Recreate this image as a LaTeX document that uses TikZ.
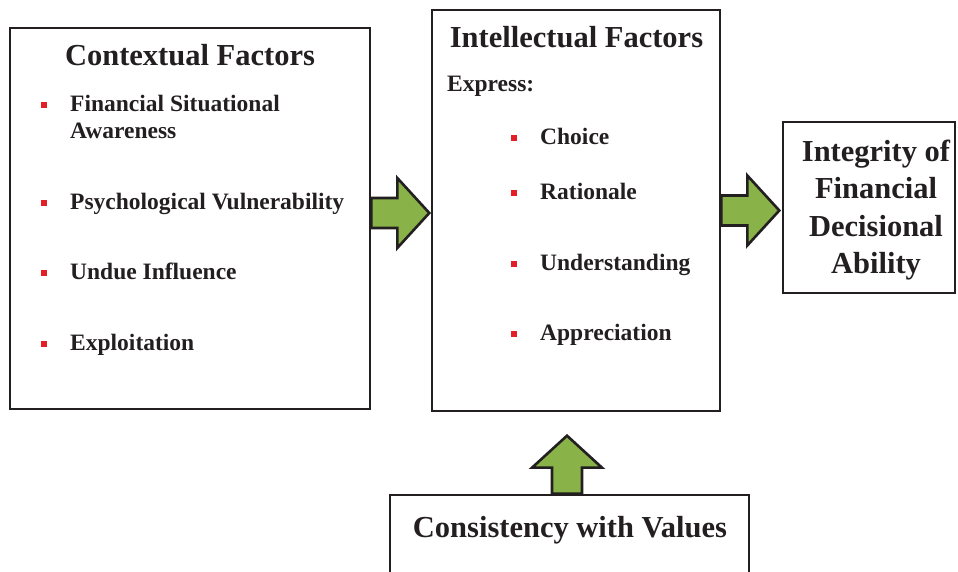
\documentclass[tikz,border=0pt]{standalone}
\usepackage{fontspec}
\setmainfont{Liberation Serif}
\usetikzlibrary{calc}

\definecolor{boxline}{RGB}{35,31,32}
\definecolor{arrowgreen}{RGB}{137,178,72}
\definecolor{bulletred}{RGB}{228,30,38}

\tikzstyle{box} = [draw=boxline, line width=2.6pt, rectangle, inner sep=0pt]
\tikzstyle{title} = [font=\fontsize{30.5}{37.5}\selectfont\bfseries, text=boxline, inner sep=0pt]
\tikzstyle{item} = [font=\fontsize{23.5}{27}\selectfont\bfseries, text=boxline, anchor=base west, inner sep=0pt, align=left]
\tikzstyle{bullet} = [fill=bulletred, minimum size=6.5pt, inner sep=0pt]
\tikzstyle{fatarrow} = [draw=boxline, line width=2.6pt, fill=arrowgreen, line join=miter]

% thick green block arrow: start point, angle
\newcommand{\fatarr}[2]{\draw[fatarrow, shift={#1}, rotate=#2]
  (0,15) -- (26,15) -- (26,35) -- (58,0) -- (26,-35) -- (26,-15) -- (0,-15) -- cycle;}

\begin{document}
\begin{tikzpicture}[x=1pt, y=1pt]
\useasboundingbox (0,0) rectangle (958,572);

% boxes
\node[box, minimum width=360pt, minimum height=381pt] (ctx) at (190,353.5) {};
\node[box, minimum width=288pt, minimum height=401pt] (intel) at (576,361.5) {};
\node[box, minimum width=172pt, minimum height=171pt] (integ) at (869,364.5) {};
\node[box, minimum width=359pt, minimum height=87pt] (cons) at (569.5,33.5) {};

% contextual factors
\node[title, anchor=base] (ctxtitle) at (190,506) {Contextual Factors};
\node[item] (fin) at (70,433) {Financial Situational\\Awareness};
\node[item] (psy) at (70,362) {Psychological Vulnerability};
\node[item] (und) at (70,292) {Undue Influence};
\node[item] (exp) at (70,221) {Exploitation};
\foreach \y in {467,369,299,228}
  \node[bullet] at (44,\y) {};

% intellectual factors
\node[title, anchor=base] (inttitle) at (576.5,524) {Intellectual Factors};
\node[item] (express) at (447,480) {Express:};
\node[item] (choice) at (540,427) {Choice};
\node[item] (rat) at (540,372) {Rationale};
\node[item] (underst) at (540,301) {Understanding};
\node[item] (apprec) at (540,231) {Appreciation};
\foreach \y in {434,379,308,238}
  \node[bullet] at (514,\y) {};

% integrity
\node[title, align=center] (integtext) at (876,362) {Integrity of\\Financial\\Decisional\\Ability};

% consistency
\node[title, anchor=base] (constext) at (570,34) {Consistency with Values};

% arrows
\fatarr{($(ctx.east)+(0,5.5)$)}{0}
\fatarr{(intel.east)}{0}
\fatarr{($(cons.north)+(-2.5,0)$)}{90}
\end{tikzpicture}
\end{document}
